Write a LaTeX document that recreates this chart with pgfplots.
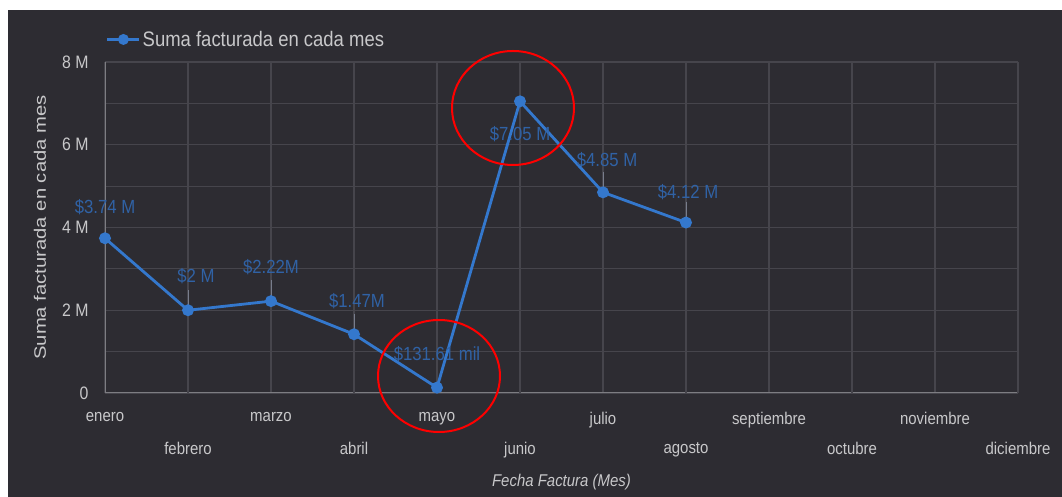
\documentclass[border=0pt]{standalone}
\usepackage{pgfplots}
\pgfplotsset{compat=1.18}
\usepackage{pgfplotstable}
\usepackage{fontspec}
\setmainfont{Liberation Sans}[FakeStretch=0.88]

\definecolor{bgdark}{RGB}{45,44,50}
\definecolor{gridc}{RGB}{70,69,76}
\definecolor{axisc}{RGB}{125,125,130}
\definecolor{txt}{RGB}{200,200,202}
\definecolor{serie}{RGB}{52,120,205}
\definecolor{etiq}{RGB}{48,98,165}
\definecolor{leader}{RGB}{120,125,140}

% Suma facturada por mes (millones), etiqueta y desplazamiento de la etiqueta
\pgfplotstableread[col sep=comma]{
x,y,ey,label,dx,dy
0,3.74,0,\$3.74 M,0,31
1,2.00,0.5,\$2 M,8,34
2,2.22,0.5,\$2.22M,0,34
3,1.42,0.5,\$1.47M,3,33
4,0.13,0,\$131.61 mil,0,33
5,7.05,0,\$7.05 M,0,-33
6,4.85,0.5,\$4.85 M,4,32
7,4.12,0.5,\$4.12 M,2,30
}\datatable

\begin{document}
\begin{tikzpicture}[x=1pt,y=1pt]
\fill[white] (0,0) rectangle (1062,497);
\fill[bgdark] (8,0) rectangle (1062,487);
\begin{axis}[
  at={(105pt,104pt)}, anchor=south west,
  scale only axis, width=913pt, height=331pt,
  xmin=0, xmax=11, ymin=0, ymax=8,
  clip=false,
  axis x line*=bottom, axis y line*=left,
  axis line style={draw=axisc, line width=1pt, -},
  major tick length=0pt, minor tick length=0pt,
  grid=both,
  major grid style={draw=gridc, line width=1.2pt},
  minor grid style={draw=gridc, line width=1.2pt},
  xtick={0,2,4,6,8,10},
  xticklabels={enero,marzo,mayo,julio,septiembre,noviembre},
  extra x ticks={1,3,5,7,9,11},
  extra x tick labels={febrero,abril,junio,agosto,octubre,diciembre},
  extra x tick style={grid=major, xticklabel style={yshift=-30pt}},
  xticklabel style={font=\fontsize{17}{19}\selectfont, text=txt, yshift=-16pt},
  ytick={0,2,4,6,8},
  yticklabels={0,2 M,4 M,6 M,8 M},
  minor ytick={1,3,5,7},
  yticklabel style={font=\fontsize{18}{20}\selectfont, text=txt, xshift=-13pt},
  ylabel={\scalebox{1}[0.72]{\fontsize{23}{25}\selectfont Suma facturada en cada mes}},
  ylabel style={text=txt, at={(axis description cs:0,0.5)}, anchor=center, yshift=65pt},
  xlabel={\fontsize{17}{19}\selectfont\itshape Fecha Factura (Mes)},
  xlabel style={text=txt, at={(axis description cs:0.5,0)}, anchor=center, yshift=-89pt},
  legend style={at={(0,1)}, anchor=south west, xshift=-2pt, yshift=10pt,
    draw=none, fill=none, text=txt, font=\fontsize{21}{23}\selectfont},
  legend image code/.code={
    \draw[#1, line width=2.5pt] (0pt,0pt) -- (32pt,0pt);
    \fill[serie] (16pt,0pt) circle (4pt);},
]
\addplot[serie, line width=2.8pt, mark=*, mark size=4.5pt,
  mark options={fill=serie, draw=serie},
  error bars/.cd, y dir=plus, y explicit,
  error mark=none, error bar style={draw=leader, line width=0.8pt}]
  table[x=x, y=y, y error=ey] {\datatable};
\addlegendentry{Suma facturada en cada mes}
\addplot[draw=none, forget plot,
  point meta=explicit symbolic,
  visualization depends on={\thisrow{dx} \as \labdx},
  visualization depends on={\thisrow{dy} \as \labdy},
  nodes near coords,
  every node near coord/.append style={anchor=center, text=etiq,
    font=\fontsize{19}{21}\selectfont, xshift=\labdx pt, yshift=\labdy pt}]
  table[x=x, y=y, meta=label] {\datatable};
\end{axis}
% anotaciones
\draw[red, line width=2pt] (513,389) ellipse [x radius=61, y radius=57];
\draw[red, line width=2pt] (439,121) ellipse [x radius=61, y radius=56];
\pgfresetboundingbox
\useasboundingbox (0,0) rectangle (1062,497);
\end{tikzpicture}
\end{document}
